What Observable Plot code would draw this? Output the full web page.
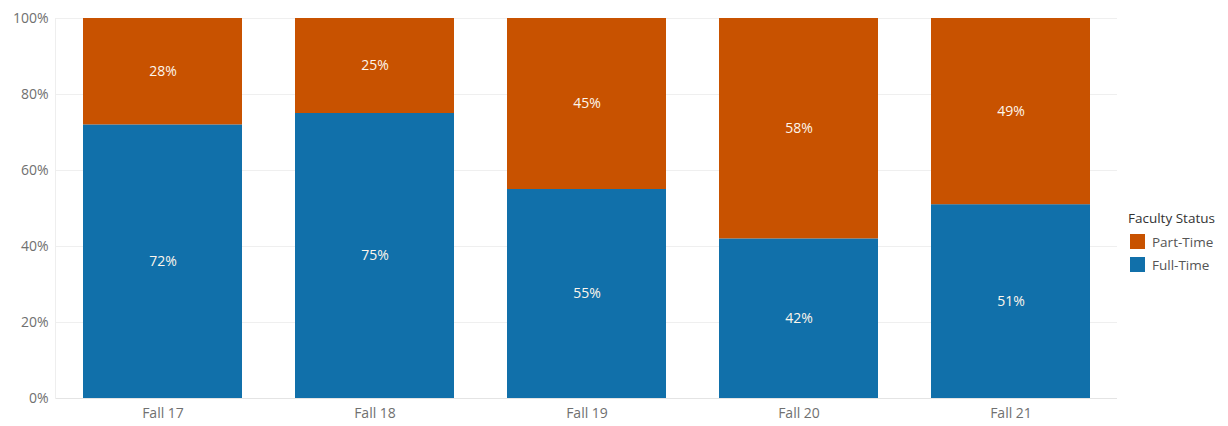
<!DOCTYPE html>
<html>
<head>
<meta charset="utf-8">
<script src="https://cdn.jsdelivr.net/npm/d3@7"></script>
<script src="https://cdn.jsdelivr.net/npm/@observablehq/plot@0.6"></script>
<style>
  html, body { margin: 0; padding: 0; background: #fff; }
  #wrap { position: relative; width: 1228px; height: 426px; font-family: "Open Sans", sans-serif; }
  #legend { position: absolute; left: 1128px; top: 209px; font-size: 13.5px; color: #333; }
  #legend .title { margin-bottom: 3px; }
  #legend .item { display: flex; align-items: center; height: 23px; color: #555; }
  #legend .sw { width: 15px; height: 15px; margin-left: 2px; margin-right: 7px; }
</style>
</head>
<body>
<div id="wrap"><div id="chart"></div><div id="legend"></div></div>
<script>
const terms = ["Fall 17", "Fall 18", "Fall 19", "Fall 20", "Fall 21"];
const fullTime = [72, 75, 55, 42, 51];
const partTime = [28, 25, 45, 58, 49];
const statuses = ["Part-Time", "Full-Time"];
const colors = ["#c85200", "#1170aa"];
const yTicks = [0, 20, 40, 60, 80, 100];

const data = [];
terms.forEach((t, i) => {
  data.push({term: t, status: "Full-Time", value: fullTime[i]});
  data.push({term: t, status: "Part-Time", value: partTime[i]});
});

const order = ["Full-Time", "Part-Time"];

const chart = Plot.plot({
  width: 1228,
  height: 426,
  marginLeft: 55,
  marginRight: 111,
  marginTop: 18,
  marginBottom: 28,
  style: {fontFamily: "Open Sans, sans-serif", fontSize: "14px", color: "#707070", background: "#fff"},
  x: {domain: terms, paddingInner: 0.25, paddingOuter: 0.125, label: null, tickSize: 0, tickPadding: 10},
  y: {domain: [0, 100], ticks: yTicks, tickFormat: d => d + "%", label: null, tickSize: 0, tickPadding: 7},
  color: {domain: statuses, range: colors},
  marks: [
    Plot.ruleY(yTicks.slice(1), {stroke: "#efefef", strokeWidth: 1}),
    Plot.ruleY([0], {stroke: "#e4e4e4", strokeWidth: 1}),
    Plot.frame({anchor: "left", stroke: "#eeeeee"}),
    Plot.barY(data, Plot.stackY({x: "term", y: "value", z: "status", fill: "status", order: order})),
    Plot.text(data, Plot.stackY({x: "term", y: "value", z: "status", order: order, text: d => d.value + "%", fill: "#fdf6ec", fontSize: 14}))
  ]
});
document.getElementById("chart").appendChild(chart);

const lg = document.getElementById("legend");
lg.innerHTML = `<div class="title">Faculty Status</div>` +
  statuses.map((s, i) => `<div class="item"><div class="sw" style="background:${colors[i]}"></div>${s}</div>`).join("");
</script>
</body>
</html>
